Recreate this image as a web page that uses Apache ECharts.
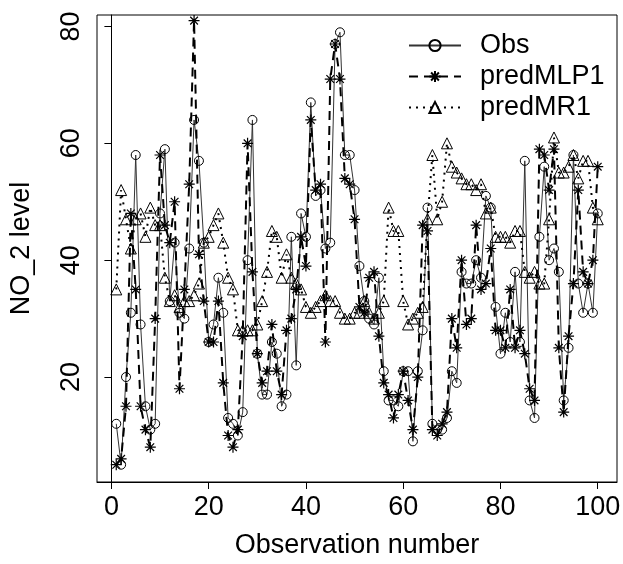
<!DOCTYPE html>
<html><head><meta charset="utf-8">
<script src="https://cdn.jsdelivr.net/npm/echarts@6/dist/echarts.min.js"></script>
<style>html,body{margin:0;padding:0;background:#fff}#c{width:623px;height:564px}</style>
</head><body><div id="c"></div>
<script>
var xTicks = [0, 20, 40, 60, 80, 100];
var yTicks = [20, 40, 60, 80];
var obs = [12,5,20,31,58,29,15,11,12,48, 59,33,43,31,30,42,64,57,43,26,
  29,37,31,13,12,10,14,40,64,24, 17,17,26,24,15,17,44,22,48,44,
  67,51,52,42,43,77,79,58,58,52, 39,33,30,29,37,21,16,16,15,21,
  21,9,21,28,49,12,11,11,13,21, 19,38,36,36,40,37,51,49,32,24,
  31,26,38,26,57,16,13,44,56,40, 42,38,16,25,58,36,31,36,31,48];
var predMLP1 = [5,6,15,48,35,15,11,8,30,58, 46,43,50,18,35,53,81,41,33,26,
  26,33,19,10,8,11,27,60,38,24, 19,21,29,21,17,28,30,35,44,39,
  64,52,53,26,71,77,71,54,53,47, 32,31,37,38,27,19,17,13,17,21,
  16,11,20,46,45,11,10,12,14,30, 25,40,29,30,46,35,36,42,28,28,
  25,35,25,28,24,18,16,59,58,52, 59,25,14,27,36,52,38,36,40,56];
var predMR1 = [35,52,47,42,47,48,44,49,46,46, 37,33,34,32,33,33,34,36,43,44,
  46,48,43,37,35,28,28,28,28,29, 33,38,45,44,37,41,37,36,35,32,
  31,32,33,34,33,33,31,30,30,31, 31,33,31,30,31,33,49,45,45,33,
  29,30,31,32,47,58,47,50,60,56, 55,54,53,53,52,53,48,49,44,44,
  44,43,45,45,38,37,38,36,36,47, 61,55,55,56,58,54,57,57,49,47];

function pts(a){ return a.map(function(v,i){ return [i+1, v]; }); }

var chart = echarts.init(document.getElementById('c'), null, {renderer:'canvas'});
var font = 'Liberation Sans, Arial, Helvetica, sans-serif';
var star = 'path://M10,0L10,20M0,10L20,10M3,3L17,17M3,17L17,3';
chart.setOption({
  animation: false,
  backgroundColor: '#fff',
  textStyle: {fontFamily: font},
  grid: {left: 85, right: 6, top: 15, bottom: 73, show: true, borderColor: '#000', borderWidth: 1, backgroundColor: 'transparent'},
  xAxis: {
    type: 'value', min: -2.96, max: 103.96,
    name: 'Observation number', nameLocation: 'middle', nameGap: 50,
    nameTextStyle: {fontSize: 27, color: '#000', fontFamily: font},
    axisLine: {show: true, lineStyle: {color: '#000'}},
    axisTick: {show: true, inside: false, length: 7, lineStyle: {color: '#000'}, customValues: xTicks},
    axisLabel: {show: true, margin: 12, fontSize: 27, color: '#000', fontFamily: font, customValues: xTicks},
    splitLine: {show: false}
  },
  yAxis: {
    type: 'value', min: 2.04, max: 81.96,
    name: 'NO_2 level', nameLocation: 'middle', nameGap: 62, nameRotate: 90,
    nameTextStyle: {fontSize: 27, color: '#000', fontFamily: font},
    axisLine: {show: true, lineStyle: {color: '#000'}},
    axisTick: {show: true, inside: false, length: 7, lineStyle: {color: '#000'}, customValues: yTicks},
    axisLabel: {show: true, margin: 12, rotate: 90, fontSize: 27, color: '#000', fontFamily: font, customValues: yTicks},
    splitLine: {show: false}
  },
  legend: {
    orient: 'vertical', left: 403, top: 27, itemWidth: 52, itemHeight: 14, itemGap: 4,
    textStyle: {fontSize: 27, color: '#000', fontFamily: font, padding: [0, 0, 0, 14]},
    data: ['Obs', 'predMLP1', 'predMR1']
  },
  series: [
    {name: 'Obs', type: 'line', data: pts(obs), symbol: 'circle', symbolSize: 9,
     lineStyle: {color: '#333', width: 1, type: 'solid'},
     itemStyle: {color: 'rgba(0,0,0,0)', borderColor: '#000', borderWidth: 1}, emphasis: {disabled: true}},
    {name: 'predMLP1', type: 'line', data: pts(predMLP1), symbol: star, symbolSize: 11,
     lineStyle: {color: '#000', width: 2, type: [9, 6]},
     itemStyle: {color: 'rgba(0,0,0,0)', borderColor: '#000', borderWidth: 1.2}, emphasis: {disabled: true}},
    {name: 'predMR1', type: 'line', data: pts(predMR1), symbol: 'triangle', symbolSize: 11,
     lineStyle: {color: '#000', width: 2, type: [2, 5]},
     itemStyle: {color: 'rgba(0,0,0,0)', borderColor: '#000', borderWidth: 1}, emphasis: {disabled: true}}
  ]
});
</script></body></html>
